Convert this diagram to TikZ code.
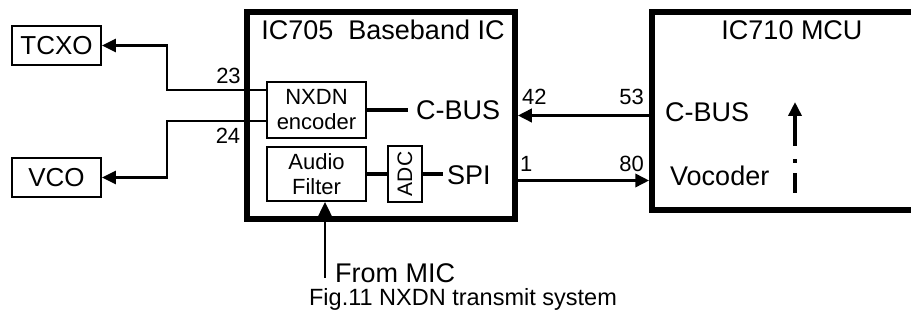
\documentclass[tikz,border=0pt]{standalone}
\usepackage{fontspec}
\setmainfont{Liberation Sans}
\usepackage{graphicx}
\usetikzlibrary{arrows.meta}
\tikzset{
  every picture/.style={line join=miter, >={Triangle[length=14pt,width=13pt]}},
  ic/.style={draw, line width=5.5pt, inner sep=0pt},
  blk/.style={draw, line width=1.8pt, inner sep=0pt, align=center, font=\fontsize{22}{25}\selectfont},
  lbl/.style={inner sep=0pt, font=\fontsize{22}{22}\selectfont},
  txt/.style={inner sep=0pt, font=\fontsize{27}{27}\selectfont},
  wire/.style={line width=2.6pt},
  bus/.style={line width=3.8pt},
}

\begin{document}
\begin{tikzpicture}[x=1pt,y=-1pt]
\useasboundingbox (0,0) rectangle (911,320);
% outside blocks
\node[blk,minimum width=89pt,minimum height=39pt,font=\fontsize{26}{26}\selectfont] (tcxo) at (56.5,45.5) {TCXO};
\node[blk,minimum width=89pt,minimum height=39pt,font=\fontsize{26}{26}\selectfont] (vco) at (56.5,177.5) {VCO};
% baseband IC
\node[ic,minimum width=268pt,minimum height=207pt] (bb) at (381,115.5) {};
\node[txt] (bbname) at (383,29.5) {IC705\ \ Baseband IC};
\node[blk,minimum width=99pt,minimum height=56pt] (enc) at (316.5,110) {NXDN\\encoder};
\node[blk,minimum width=99pt,minimum height=54pt] (filt) at (316.5,174) {Audio\\Filter};
\node[blk,minimum width=34pt,minimum height=56pt,font=\fontsize{21}{21}\selectfont] (adc) at (405,174) {\rotatebox{90}{ADC}};
\node[txt,anchor=west,inner xsep=8pt] (cbus) at (408,110) {C-BUS};
\node[txt,anchor=west,inner xsep=4pt] (spi) at (443,175.5) {SPI};
% MCU
\node[ic,minimum width=300pt,minimum height=198pt] (mcu) at (802,111) {};
\node[txt] (mcuname) at (792,30) {IC710 MCU};
\node[txt,anchor=west] (mbus) at (665,112.5) {C-BUS};
\node[txt,anchor=west] (voc) at (670,175.5) {Vocoder};
% connectors
\draw[wire,->] ([yshift=20pt]enc.west) -- ++(-99,0) |- (tcxo);
\draw[wire,->] ([yshift=-11pt]enc.west) -- ++(-99,0) |- (vco);
\node[lbl] (p23) at (228.5,76) {23};
\node[lbl] (p24) at (228,136) {24};
\draw[bus] (enc) -- (cbus);
\draw[bus] (filt) -- (adc);
\draw[bus] (adc.east) -- (adc.east -| spi.west);
\draw[bus,->] (mcu.west |- bb.east) -- (bb.east);
\draw[bus,->] ([yshift=-65pt]bb.east) -- ([yshift=-65pt]bb.east -| mcu.west);
\node[lbl,anchor=west] (p42) at (522,97) {42};
\node[lbl,anchor=east] (p53) at (644,97) {53};
\node[lbl,anchor=west] (p1) at (520,163.5) {1};
\node[lbl,anchor=east] (p80) at (644,163.5) {80};
% vocoder data path
\coordinate (vtop) at (795,102);
\coordinate (vmid) at (795,146);
\coordinate (vbot) at (795,193);
\draw[bus,->] (vmid) -- (vtop);
\draw[bus,dash pattern=on 20pt off 10pt on 4pt off 20pt] (vbot) -- (vmid);
% microphone input
\coordinate (mic) at (325,278);
\draw[line width=2pt,->] (mic) -- (mic |- filt.south);
\node[txt,anchor=west] (micname) at (335,273) {From MIC};
\node[inner sep=0pt,font=\fontsize{23.5}{23.5}\selectfont] (cap) at (463,299) {Fig.11 NXDN transmit system};
\end{tikzpicture}
\end{document}
